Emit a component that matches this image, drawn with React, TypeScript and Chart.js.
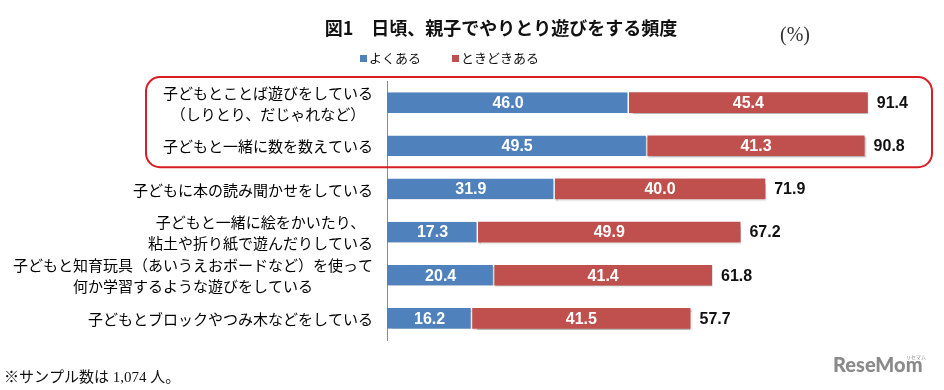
import React, { useEffect, useRef } from 'react';
import { Chart, registerables } from 'chart.js';

Chart.register(...registerables);

const categories: string[][] = [
  ['子どもとことば遊びをしている', '（しりとり、だじゃれなど）'],
  ['子どもと一緒に数を数えている'],
  ['子どもに本の読み聞かせをしている'],
  ['子どもと一緒に絵をかいたり、', '粘土や折り紙で遊んだりしている'],
  ['子どもと知育玩具（あいうえおボードなど）を使って', '何か学習するような遊びをしている'],
  ['子どもとブロックやつみ木などをしている'],
];
const often = [46.0, 49.5, 31.9, 17.3, 20.4, 16.2];
const sometimes = [45.4, 41.3, 40.0, 49.9, 41.4, 41.5];
const totals = [91.4, 90.8, 71.9, 67.2, 61.8, 57.7];
const seriesNames = ['よくある', 'ときどきある'];
const seriesColors = ['#4F81BD', '#C0504D'];
const titleText = '図1　日頃、親子でやりとり遊びをする頻度';
const unitText = '(%)';
const footnoteText = '※サンプル数は 1,074 人。';
const highlighted = [0, 1];

const JP = '"Noto Sans CJK JP", "Noto Sans", sans-serif';
const NUM = '"Liberation Sans", Arial, sans-serif';

const overlayPlugin = {
  id: 'overlay',
  beforeDatasetsDraw(chart: any) {
    const ctx = chart.ctx;
    ctx.save();
    ctx.shadowColor = 'rgba(0,0,0,0.28)';
    ctx.shadowOffsetX = 1;
    ctx.shadowOffsetY = 1.5;
    ctx.shadowBlur = 1.5;
  },
  afterDatasetsDraw(chart: any) {
    const ctx = chart.ctx;
    ctx.restore();
    ctx.save();
    ctx.textBaseline = 'middle';
    // inner values
    ctx.font = `bold 16px ${NUM}`;
    ctx.fillStyle = '#ffffff';
    ctx.textAlign = 'center';
    chart.data.datasets.forEach((ds: any, di: number) => {
      const meta = chart.getDatasetMeta(di);
      meta.data.forEach((el: any, i: number) => {
        const p = el.getProps(['x', 'base', 'y'], true);
        ctx.fillText(Number(ds.data[i]).toFixed(1), (p.x + p.base) / 2, p.y + 1);
      });
    });
    // totals
    const last = chart.getDatasetMeta(chart.data.datasets.length - 1);
    ctx.font = `bold 16px ${NUM}`;
    ctx.fillStyle = '#111111';
    ctx.textAlign = 'left';
    last.data.forEach((el: any, i: number) => {
      const p = el.getProps(['x', 'y'], true);
      ctx.fillText(totals[i].toFixed(1), p.x + 9, p.y + 1);
    });
    ctx.restore();
  },
  afterDraw(chart: any) {
    const ctx = chart.ctx;
    const yScale = chart.scales.y;
    const area = chart.chartArea;
    ctx.save();
    ctx.textBaseline = 'middle';

    // category labels (block right-aligned, lines centred within block)
    ctx.font = `15px ${JP}`;
    ctx.fillStyle = '#000000';
    ctx.textAlign = 'center';
    const rightX = area.left - 14;
    const lineH = 21;
    categories.forEach((lines, i) => {
      const cy = yScale.getPixelForValue(i);
      const widest = Math.max(...lines.map((l) => ctx.measureText(l).width));
      const cx = rightX - widest / 2;
      lines.forEach((l, j) => {
        const ly = cy + (j - (lines.length - 1) / 2) * lineH + 1;
        ctx.fillText(l, cx, ly);
      });
    });

    // title
    ctx.font = `bold 18px ${JP}`;
    ctx.fillStyle = '#111111';
    ctx.textAlign = 'center';
    ctx.fillText(titleText, 501, 28);

    // unit
    ctx.font = `20px "Liberation Serif", "DejaVu Serif", serif`;
    ctx.fillStyle = '#333333';
    ctx.textAlign = 'left';
    ctx.fillText(unitText, 780, 36);

    // legend
    ctx.font = `13px ${JP}`;
    const legendX = [360, 452];
    seriesNames.forEach((name, i) => {
      ctx.fillStyle = seriesColors[i];
      ctx.fillRect(legendX[i], 55, 7, 7);
      ctx.fillStyle = '#111111';
      ctx.textAlign = 'left';
      ctx.fillText(name, legendX[i] + 9, 58);
    });

    // highlight box
    const top = yScale.getPixelForValue(highlighted[0]) - 25.5;
    const bottom = yScale.getPixelForValue(highlighted[highlighted.length - 1]) + 21.5;
    ctx.strokeStyle = '#D81E25';
    ctx.lineWidth = 2;
    ctx.beginPath();
    (ctx as any).roundRect(146, top, 932 - 146, bottom - top, 14);
    ctx.stroke();

    // footnote
    ctx.font = `15px "Liberation Serif", "Noto Sans CJK JP", serif`;
    ctx.fillStyle = '#111111';
    ctx.textAlign = 'left';
    ctx.fillText(footnoteText, 4, 378);

    // logo
    ctx.fillStyle = '#8a8a8a';
    ctx.font = `900 20px Lato, "Open Sans", sans-serif`;
    ctx.textBaseline = 'alphabetic';
    ctx.fillText('ReseMom', 833, 372);
    ctx.font = `5px ${JP}`;
    ctx.fillText('リセマム', 906, 359);
    ctx.restore();
  },
};

export default function App() {
  const ref = useRef<HTMLCanvasElement | null>(null);
  useEffect(() => {
    if (!ref.current) return;
    const chart = new Chart(ref.current, {
      type: 'bar',
      data: {
        labels: categories,
        datasets: [
          {
            label: seriesNames[0],
            data: often,
            backgroundColor: seriesColors[0],
            borderColor: '#ffffff',
            borderWidth: { left: 0, top: 0, bottom: 0, right: 1.5 },
            barPercentage: 0.48,
            categoryPercentage: 1,
          },
          {
            label: seriesNames[1],
            data: sometimes,
            backgroundColor: seriesColors[1],
            borderWidth: 0,
            barPercentage: 0.48,
            categoryPercentage: 1,
          },
        ],
      },
      options: {
        indexAxis: 'y',
        animation: false,
        responsive: false,
        devicePixelRatio: 1,
        layout: { padding: { left: 0, right: 31, top: 81, bottom: 50 } },
        plugins: { legend: { display: false }, tooltip: { enabled: false }, title: { display: false } },
        scales: {
          x: { stacked: true, min: 0, max: 100, display: false },
          y: {
            stacked: true,
            grid: { display: false },
            border: { display: true, color: '#8c8c8c', width: 1 },
            ticks: { display: false },
            afterFit: (s: any) => {
              s.width = 387;
            },
          },
        },
      } as any,
      plugins: [overlayPlugin],
    });
    return () => chart.destroy();
  }, []);
  return (
    <div style={{ position: 'fixed', left: 0, top: 0, width: 944, height: 390, background: '#fff' }}>
      <canvas ref={ref} width={944} height={390} style={{ width: 944, height: 390, display: 'block' }} />
    </div>
  );
}
